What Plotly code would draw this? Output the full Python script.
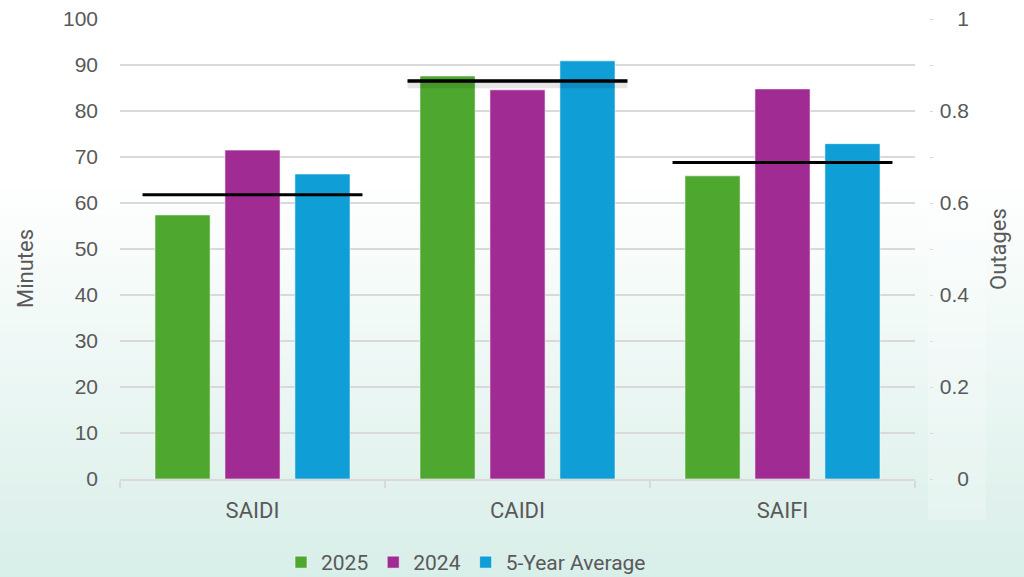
import plotly.graph_objects as go

categories = ["SAIDI", "CAIDI", "SAIFI"]
series_names = ["2025", "2024", "5-Year Average"]
series_colors = ["#4ea72e", "#a02b93", "#0f9ed5"]

# SAIDI, CAIDI in minutes (left axis)
minutes_2025 = [57.4, 87.6]
minutes_2024 = [71.5, 84.6]
minutes_avg = [66.3, 90.9]
minutes_target = [61.8, 86.5]

# SAIFI in outages (right axis)
outages_2025 = [0.659]
outages_2024 = [0.848]
outages_avg = [0.729]
outages_target = [0.688]

outage_ticks = [0, 0.2, 0.4, 0.6, 0.8, 1]

W, H = 1024, 577
HF = H + 6  # legend padding hangs just below the visible window
L, R = 120, 52
PLOT_RIGHT, PLOT_TOP, PLOT_BOTTOM = 915, 19, 479
pw = W - L - R


def px_x(px):
    return (px - L) / pw


def px_y(py):
    return (HF - py) / HF


fig = go.Figure()

minute_series = [minutes_2025, minutes_2024, minutes_avg]
outage_series = [outages_2025, outages_2024, outages_avg]
bar_w = 0.208
slot = 0.264

for i, name in enumerate(series_names):
    off = (i - 1) * slot - bar_w / 2
    fig.add_trace(go.Bar(
        x=categories[:2], y=minute_series[i], name=name,
        marker=dict(color=series_colors[i], line=dict(color="rgba(255,255,255,0.55)", width=1)),
        width=bar_w, offset=off, legendgroup=name, yaxis="y",
        hoverinfo="skip",
    ))
    fig.add_trace(go.Bar(
        x=categories[2:], y=outage_series[i], name=name,
        marker=dict(color=series_colors[i], line=dict(color="rgba(255,255,255,0.55)", width=1)),
        width=bar_w, offset=off, legendgroup=name, showlegend=False, yaxis="y2",
        hoverinfo="skip",
    ))

# background gradient (white -> pale mint)
top_c = (255, 255, 255)
bot_c = (216, 238, 232)
g0, g1 = 180, HF
n = 48
step = (g1 - g0) / n
for k in range(n):
    t = (k + 0.5) / n
    c = tuple(round(top_c[j] + (bot_c[j] - top_c[j]) * t) for j in range(3))
    fig.add_shape(type="rect", xref="paper", yref="paper",
                  x0=px_x(-5), x1=px_x(W + 5),
                  y0=px_y(g0 + (k + 1) * step + 0.5), y1=px_y(g0 + k * step),
                  fillcolor="rgb(%d,%d,%d)" % c, line=dict(width=0), layer="below")

# faint panel behind secondary axis labels
fig.add_shape(type="rect", xref="paper", yref="paper",
              x0=px_x(928), x1=px_x(986), y0=px_y(520), y1=px_y(0),
              fillcolor="rgba(255,255,255,0.22)", line=dict(width=0), layer="below")

# target lines
half = 0.415
for i, v in enumerate(minutes_target):
    if i == 1:
        fig.add_shape(type="line", xref="x", yref="y", x0=i - half, x1=i + half,
                      y0=v - 0.6, y1=v - 0.6,
                      line=dict(color="rgba(0,0,0,0.10)", width=9))
    fig.add_shape(type="line", xref="x", yref="y", x0=i - half, x1=i + half,
                  y0=v, y1=v, line=dict(color="black", width=3.5 if i == 1 else 3))
for i, v in enumerate(outages_target):
    ci = 2 + i
    fig.add_shape(type="line", xref="x", yref="y2", x0=ci - half, x1=ci + half,
                  y0=v, y1=v, line=dict(color="black", width=3))

# empty trace so the label-only axis is drawn
fig.add_trace(go.Scatter(x=[categories[0]], y=[None], yaxis="y3", showlegend=False,
                         hoverinfo="skip", mode="markers"))

grey = "#595959"
grid = "#d9d9d9"

dom_y = [px_y(PLOT_BOTTOM), px_y(PLOT_TOP)]
ext = 0.035  # padding on label axis so end labels are kept
ext_px = ext * (PLOT_BOTTOM - PLOT_TOP)
dom_y3 = [px_y(PLOT_BOTTOM + ext_px), px_y(PLOT_TOP - ext_px)]

# left axis title sits a bit below the plot centre
fig.add_annotation(text="Minutes", xref="paper", yref="paper",
                   x=px_x(25), y=px_y(269), textangle=-90, showarrow=False,
                   xanchor="center", yanchor="middle",
                   font=dict(size=22, color=grey, family="Roboto, sans-serif"))

fig.update_layout(
    width=W, height=HF,
    margin=dict(l=L, r=R, t=0, b=0),
    paper_bgcolor="white",
    plot_bgcolor="rgba(0,0,0,0)",
    barmode="overlay",
    font=dict(family="Roboto, Liberation Sans, sans-serif", color=grey, size=20),
    xaxis=dict(
        domain=[0, px_x(PLOT_RIGHT)],
        type="category",
        range=[-0.5, 2.5],
        automargin=False,
        showline=True, linecolor=grid, linewidth=1.5,
        ticks="outside", tickson="boundaries", ticklen=7, tickcolor=grid, tickwidth=1.5,
        tickfont=dict(size=22, family="Roboto, sans-serif", color=grey),
        ticklabelstandoff=11,
        showgrid=False, zeroline=False,
    ),
    yaxis=dict(
        domain=dom_y,
        range=[0, 100], dtick=10,
        automargin=False,
        showgrid=True, gridcolor=grid, gridwidth=1.5,
        zeroline=False, showline=False, ticks="",
        tickfont=dict(size=21, family="Liberation Sans, Arial, sans-serif", color=grey),
        ticklabelstandoff=21,
    ),
    yaxis2=dict(
        range=[0, 1], dtick=0.2,
        overlaying="y", side="right", anchor="free", position=px_x(929),
        automargin=False,
        showgrid=False, zeroline=False, showline=False,
        ticks="outside", ticklen=3, tickcolor=grid, tickwidth=1,
        minor=dict(ticks="outside", dtick=0.1, ticklen=3, tickcolor=grid, showgrid=False),
        showticklabels=False,
    ),
    yaxis3=dict(
        domain=dom_y3,
        range=[-ext, 1 + ext], tickvals=outage_ticks,
        side="right", anchor="free", position=1,
        automargin=False,
        showgrid=False, zeroline=False, showline=False, ticks="",
        ticklabelposition="inside",
        tickfont=dict(size=21, family="Liberation Sans, Arial, sans-serif", color=grey),
        title=dict(text="Outages", font=dict(size=22, color=grey), standoff=22),
    ),
    legend=dict(
        orientation="h", x=px_x(281), xanchor="left",
        y=0, yanchor="bottom",
        font=dict(size=21, family="Roboto, sans-serif", color=grey),
        bgcolor="rgba(0,0,0,0)", traceorder="normal",
    ),
    showlegend=True,
)

fig.write_html(
    "out.html", config={"displayModeBar": False},
    post_script="document.body.style.margin='0';"
                "document.body.style.overflow='hidden';"
                "document.documentElement.style.overflow='hidden';",
)
